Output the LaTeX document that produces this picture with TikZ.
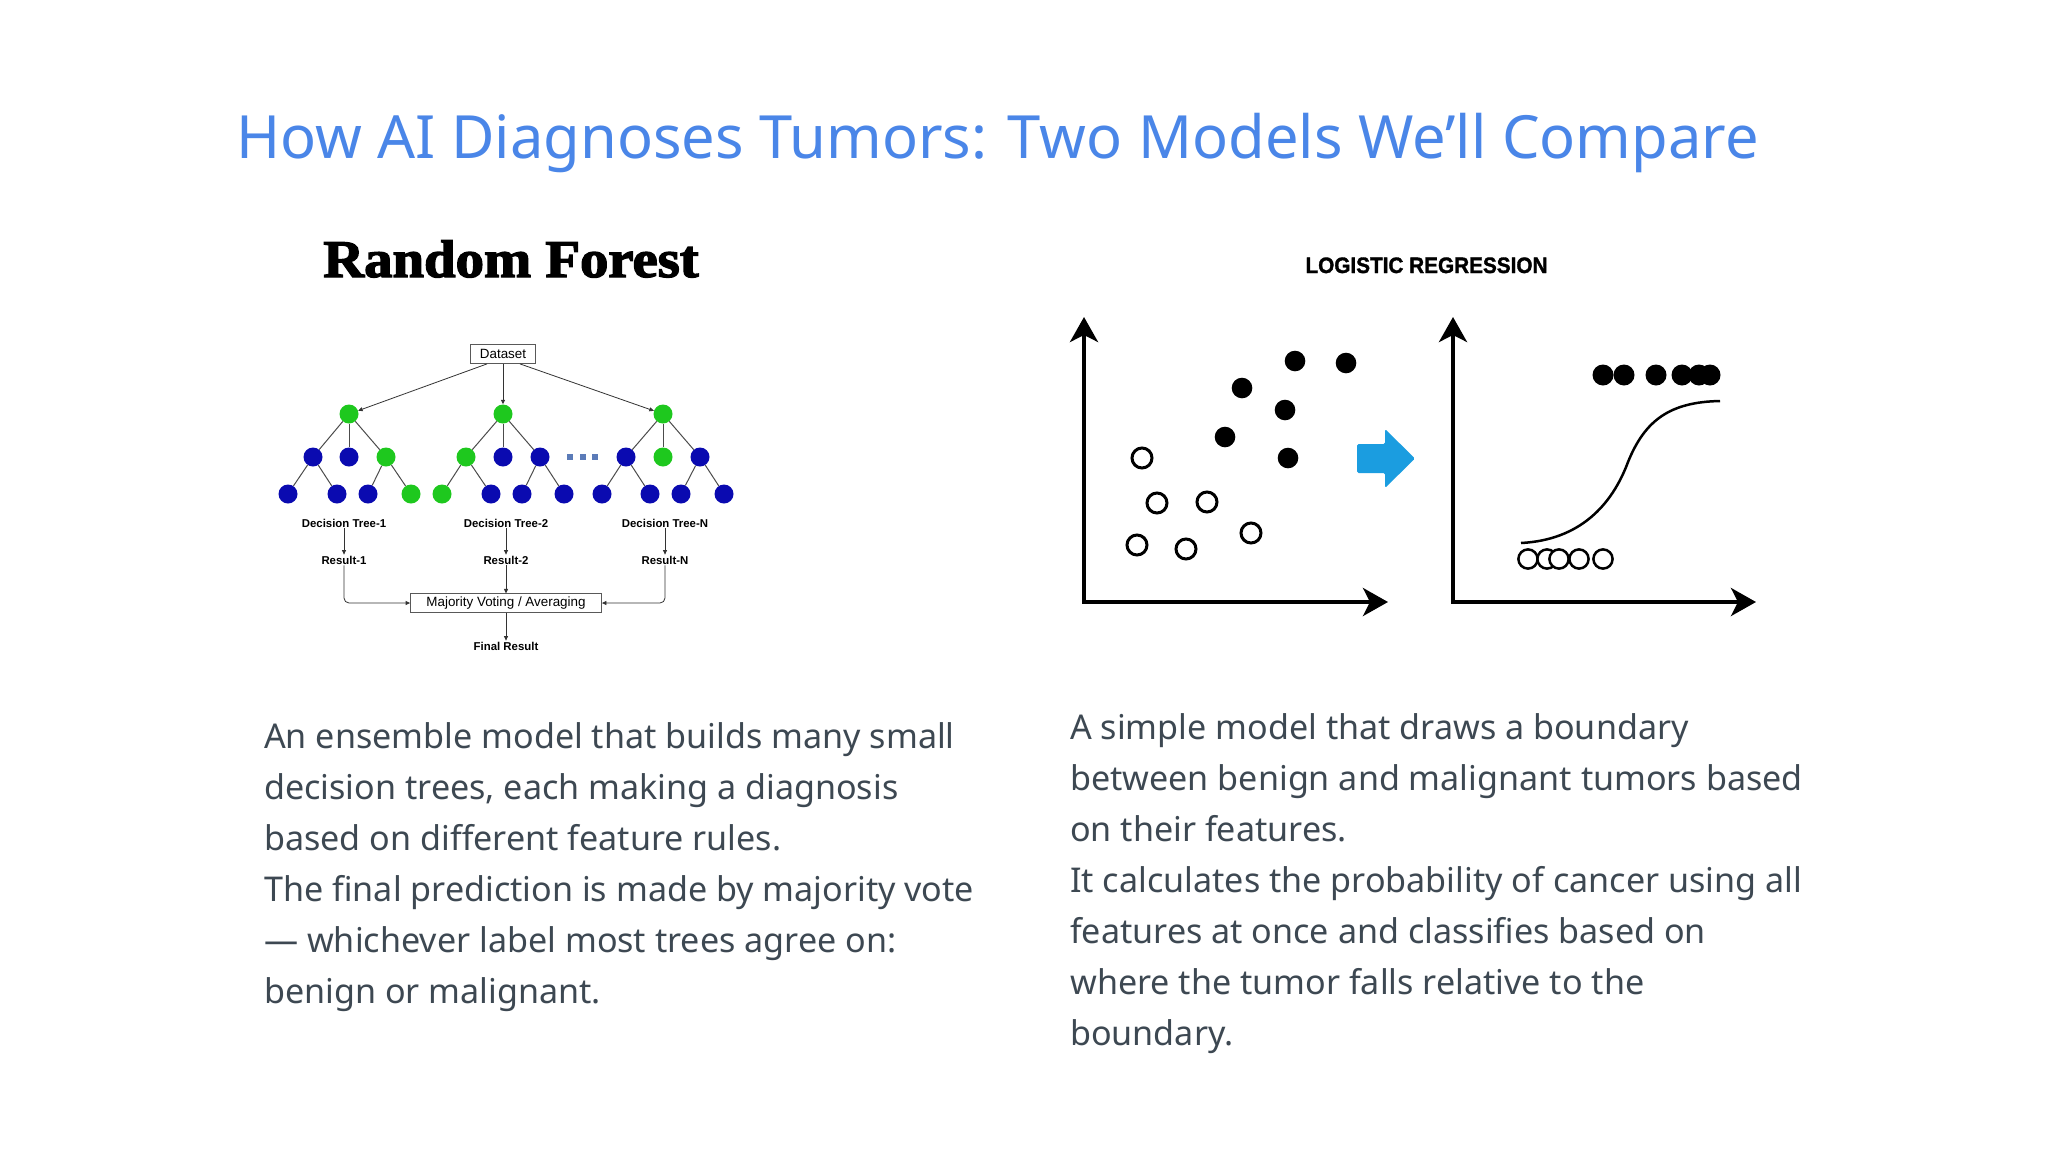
\documentclass[tikz,border=0pt]{standalone}
\usepackage{fontspec}
\setmainfont{Noto Sans}
\newfontfamily\rfserif[BoldFeatures={FakeBold=2.5}]{Liberation Serif}
\newfontfamily\rfsans{Liberation Sans}
\newfontfamily\rfsanshead[BoldFeatures={FakeBold=1.5}]{Liberation Sans}
\usepackage{tikz}
\usetikzlibrary{positioning,arrows.meta}
\definecolor{titleblue}{HTML}{4A86E8}
\definecolor{bodygray}{HTML}{3D4852}
\definecolor{leafgreen}{HTML}{1EC81E}
\definecolor{leafblue}{HTML}{0A0AB0}
\definecolor{dotblue}{HTML}{5B7BB8}
\definecolor{arrowblue}{HTML}{1B9DE0}

\begin{document}
\begin{tikzpicture}[
  x=1bp, y=-1bp,
  gn/.style={circle, fill=leafgreen, minimum size=19bp, inner sep=0pt},
  bn/.style={circle, fill=leafblue, minimum size=19bp, inner sep=0pt},
  lbl/.style={font=\rfsans\bfseries\fontsize{11.4bp}{13bp}\selectfont, inner sep=1bp},
  rfbox/.style={draw=black!65, line width=0.8bp, font=\rfsans\fontsize{13.4bp}{15bp}\selectfont, inner sep=0pt},
  edge/.style={draw=black!70, line width=1bp},
  flow/.style={draw=black!80, line width=0.8bp, -{Triangle[length=4.5bp,width=4bp]}},
  axis/.style={line width=4bp, {Stealth[length=25bp,width=28bp,inset=7bp]}-{Stealth[length=25bp,width=28bp,inset=7bp]}},
  body/.style={font=\fontsize{34.1bp}{51bp}\selectfont, text=bodygray, align=left, inner sep=0pt, anchor=north west},
]
\useasboundingbox[fill=white] (0,0) rectangle (2048,1152);

% title and headings
\node[anchor=base west, inner sep=0pt, text=titleblue, font=\fontsize{59.6bp}{68bp}\selectfont] (title) at (236,158) {How AI Diagnoses Tumors: Two Models We’ll Compare};
\node[anchor=base, inner sep=0pt, font=\rfserif\bfseries\fontsize{53bp}{60bp}\selectfont] (rfhead) at (511,277) {\scalebox{1.07}[1]{Random Forest}};
\node[anchor=base, inner sep=0pt, font=\rfsanshead\bfseries\fontsize{22.3bp}{26bp}\selectfont] (lrhead) at (1426.5,273) {\scalebox{0.93}[1]{LOGISTIC REGRESSION}};

% random forest
\node[rfbox, minimum width=65bp, minimum height=19bp] (data) at (503,354) {Dataset};

\node[gn] (t1) at (349,414) {};
\node[bn] (t1a) at (313,457) {}; \node[bn] (t1b) at (349,457) {}; \node[gn] (t1c) at (386,457) {};
\node[bn] (t1aa) at (288,494) {}; \node[bn] (t1ab) at (337,494) {};
\node[bn] (t1ca) at (368,494) {}; \node[gn] (t1cb) at (411,494) {};

\node[gn] (t2) at (503,414) {};
\node[gn] (t2a) at (466,457) {}; \node[bn] (t2b) at (503,457) {}; \node[bn] (t2c) at (540,457) {};
\node[gn] (t2aa) at (442,494) {}; \node[bn] (t2ab) at (491,494) {};
\node[bn] (t2ca) at (522,494) {}; \node[bn] (t2cb) at (564,494) {};

\node[gn] (tn) at (663,414) {};
\node[bn] (tna) at (626,457) {}; \node[gn] (tnb) at (663,457) {}; \node[bn] (tnc) at (700,457) {};
\node[bn] (tnaa) at (602,494) {}; \node[bn] (tnab) at (650,494) {};
\node[bn] (tnca) at (681,494) {}; \node[bn] (tncb) at (724,494) {};

\foreach \x in {570,583,595}
  \fill[dotblue] (\x-2.6,454.4) rectangle (\x+2.6,459.6);

\node[lbl] (dt1) at (344,523) {Decision Tree-1};
\node[lbl] (dt2) at (506,523) {Decision Tree-2};
\node[lbl] (dtn) at (665,523) {Decision Tree-N};
\node[lbl] (r1) at (344,560) {Result-1};
\node[lbl] (r2) at (506,560) {Result-2};
\node[lbl] (rn) at (665,560) {Result-N};
\node[rfbox, minimum width=191bp, minimum height=18.3bp] (vote) at (506,603) {Majority Voting / Averaging};
\node[lbl] (fin) at (506,646) {Final Result};

\draw[flow] ([xshift=-16bp]data.south) -- (t1);
\draw[flow] (data) -- (t2);
\draw[flow] ([xshift=17bp]data.south) -- (tn);

\draw[edge] (t1) -- (t1a); \draw[edge] (t1) -- (t1b); \draw[edge] (t1) -- (t1c);
\draw[edge] (t1a) -- (t1aa); \draw[edge] (t1a) -- (t1ab); \draw[edge] (t1c) -- (t1ca); \draw[edge] (t1c) -- (t1cb);
\draw[edge] (t2) -- (t2a); \draw[edge] (t2) -- (t2b); \draw[edge] (t2) -- (t2c);
\draw[edge] (t2a) -- (t2aa); \draw[edge] (t2a) -- (t2ab); \draw[edge] (t2c) -- (t2ca); \draw[edge] (t2c) -- (t2cb);
\draw[edge] (tn) -- (tna); \draw[edge] (tn) -- (tnb); \draw[edge] (tn) -- (tnc);
\draw[edge] (tna) -- (tnaa); \draw[edge] (tna) -- (tnab); \draw[edge] (tnc) -- (tnca); \draw[edge] (tnc) -- (tncb);

\draw[flow] (dt1) -- (r1);
\draw[flow] (dt2) -- (r2);
\draw[flow] (dtn) -- (rn);
\draw[flow, rounded corners=5bp] (r1.south) |- (vote.west);
\draw[flow] (r2) -- (vote);
\draw[flow, rounded corners=5bp] (rn.south) |- (vote.east);
\draw[flow] (vote) -- (fin);

% logistic regression
\coordinate (ly) at (1084,317); \coordinate (lo) at (1084,602); \coordinate (lx) at (1388,602);
\coordinate (ry) at (1453,317); \coordinate (ro) at (1453,602); \coordinate (rx) at (1756,602);
\draw[axis] (ly) -- (lo) -- (lx);
\draw[axis] (ry) -- (ro) -- (rx);

\foreach \p in {(1142,458),(1157,503),(1207,502),(1137,545),(1186,549),(1251,533)}
  \draw[line width=3bp] \p circle[radius=10bp];
\foreach \p in {(1295,361),(1346,363),(1242,388),(1285,410),(1225,437),(1288,458)}
  \fill \p circle[radius=10.3bp];

\fill[arrowblue, rounded corners=1.5bp] (1357,444) -- (1385,444) -- (1385,429) -- (1415,458.5) -- (1385,488) -- (1385,473) -- (1357,473) -- cycle;

\foreach \x in {1603,1624,1656,1682,1699,1710}
  \fill (\x,375) circle[radius=10.5bp];
\foreach \x in {1528,1547,1559,1579,1603}
  \draw[line width=2.5bp, fill=white] (\x,559) circle[radius=9.6bp];
\draw[line width=2.5bp] (1521,543) .. controls (1580,540) and (1612,505) .. (1628,462)
  .. controls (1645,420) and (1670,402) .. (1720,401);

% texts
\node[body] (rftext) at (264,722.8) {An ensemble model that builds many small\\
decision trees, each making a diagnosis\\
based on different feature rules.\\
The final prediction is made by majority vote\\
— whichever label most trees agree on:\\
benign or malignant.};
\node[body] (lrtext) at (1070,713.4) {A simple model that draws a boundary\\
between benign and malignant tumors based\\
on their features.\\
It calculates the probability of cancer using all\\
features at once and classifies based on\\
where the tumor falls relative to the\\
boundary.};
\end{tikzpicture}
\end{document}
